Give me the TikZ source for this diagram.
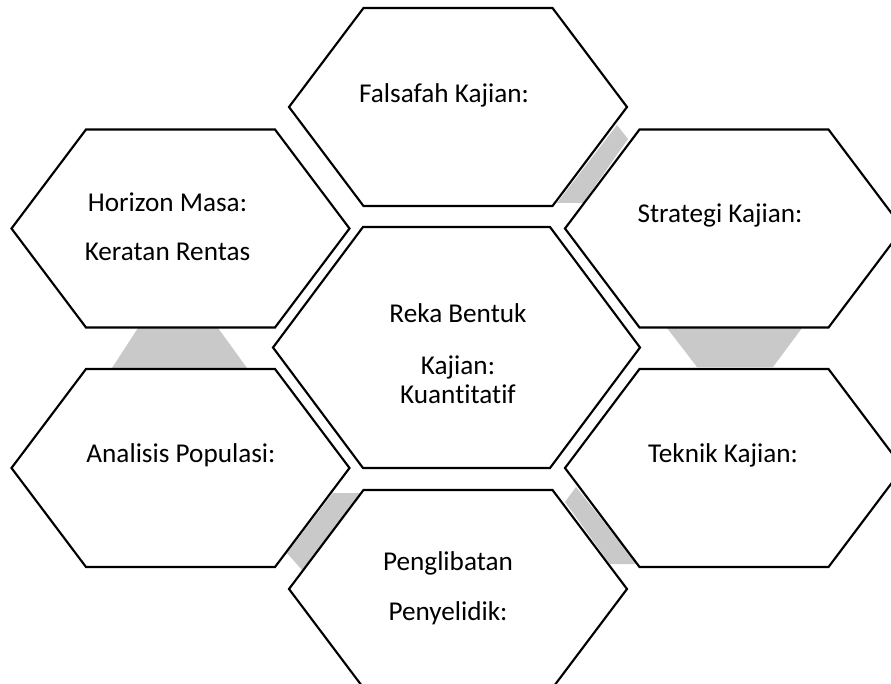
\documentclass[tikz,border=0pt]{standalone}
\usepackage{fontspec}
\setmainfont{Carlito}[Ligatures=NoCommon]
\usetikzlibrary{calc}
\definecolor{LinkGray}{RGB}{201, 201, 201}
\tikzset{
  hexline/.style={draw=black, fill=white, line width=1.6pt, line join=miter},
  linkfill/.style={fill=LinkGray},
  hexlabel/.style={anchor=base, align=center, font=\fontsize{20.4}{36}\selectfont}
}

\begin{document}
\begin{tikzpicture}[x=0.75pt, y=-0.75pt]
  \clip (0,0) rectangle (891,684);
  \fill[white] (0,0) rectangle (891,684);

  % hexagon centres
  \foreach \nm/\cx/\cy in {falsafah/458/107, horizon/180.5/228.5, strategi/734/228.5,
                           analisis/180.5/468, teknik/734/468, penglibatan/458/589}
    \coordinate (\nm) at (\cx,\cy);
  \coordinate (reka) at (456.5,347.5);

  % grey links between neighbouring cells
  \fill[linkfill, shift={(falsafah)}] (159,18) -- (170,32) -- (125,96) -- (99,96) -- cycle;
  \fill[linkfill, shift={(strategi)}] (-67,99.5) -- (68,99.5) -- (39,138.5) -- (-37,138.5) -- cycle;
  \fill[linkfill, shift={(horizon)}] (-42.5,99.5) -- (37.5,99.5) -- (66.5,139.5) -- (-68.5,139.5) -- cycle;
  \fill[linkfill, shift={(analisis)}] (152.5,25) -- (180.5,25) -- (121.5,102) -- (106.5,85) -- cycle;
  \fill[linkfill, shift={(teknik)}] (-158,19) -- (-97,96) -- (-124,96) -- (-169,34) -- cycle;

  % cells
  \foreach \nm in {falsafah, horizon, strategi, analisis, teknik, penglibatan}
    \draw[hexline, shift={(\nm)}] (-169,0) -- (-94.5,-99) -- (94.5,-99) -- (169,0)
      -- (94.5,99) -- (-94.5,99) -- cycle;
  \draw[hexline, shift={(reka)}] (-183.5,0) -- (-93.5,-120.5) -- (93.5,-120.5) -- (183.5,0)
    -- (93.5,120.5) -- (-93.5,120.5) -- cycle;

  % labels (multi-line ones sit on their last baseline)
  \node[hexlabel] (falsafahtext) at (444,103) {Falsafah Kajian:};
  \node[hexlabel] (horizontext) at (167.5,260) {Horizon Masa:\\Keratan Rentas};
  \node[hexlabel] (strategitext) at (720,223) {Strategi Kajian:};
  \node[hexlabel] (rekatext) at (458,403)
    {Reka Bentuk\\[3pt]Kajian:\\[-14.25pt]Kuantitatif};
  \node[hexlabel] (analisistext) at (181,462) {Analisis Populasi:};
  \node[hexlabel] (tekniktext) at (723,462) {Teknik Kajian:};
  \node[hexlabel] (penglibatantext) at (448,620) {Penglibatan\\[1.5pt]Penyelidik:};
\end{tikzpicture}
\end{document}
